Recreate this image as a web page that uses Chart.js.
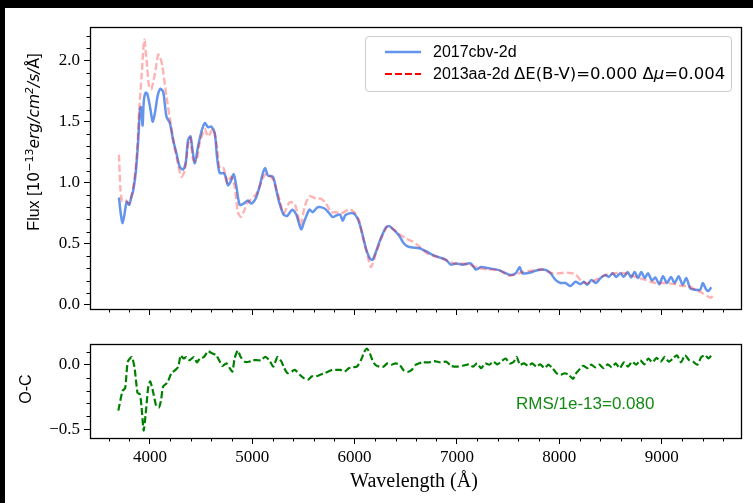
<!DOCTYPE html>
<html>
<head>
<meta charset="utf-8">
<script src="https://cdn.jsdelivr.net/npm/chart.js@4.4.0/dist/chart.umd.min.js"></script>
<style>
  html, body { margin: 0; padding: 0; width: 753px; height: 503px; overflow: hidden; background: #000; }
  #page { position: absolute; left: 5px; top: 8px; right: 0; bottom: 0; background: #fff; }
  canvas { position: absolute; left: 0; }
  #fluxCanvas { top: 0; }
  #ocCanvas { top: 330px; }
  .lbl { position: absolute; font-family: "Liberation Sans", sans-serif; font-size: 16px; color: #000; white-space: nowrap; line-height: 1; }
  .lbl sup { font-size: 11px; line-height: 0; vertical-align: 6px; }
  .math { font-family: "DejaVu Sans", sans-serif; font-size: 15.5px; }
  .serif { font-family: "Liberation Serif", serif; font-size: 20px; }
  #legend { position: absolute; left: 365px; top: 36px; width: 367px; height: 56px; box-sizing: border-box;
            border: 1px solid #ccc; border-radius: 4px; background: rgba(255,255,255,0.8); }
  #legend svg { position: absolute; left: 19px; }
  #legend .lbl { left: 67px; transform: translateY(-50%); }
  #legend .math { font-size: 16.5px; }
</style>
</head>
<body>
<div id="page"></div>
<canvas id="fluxCanvas" width="753" height="330"></canvas>
<canvas id="ocCanvas" width="753" height="173"></canvas>

<div class="lbl" style="left:34px;top:142px;transform:translate(-50%,-50%) rotate(-90deg)">Flux [<span class="math">10<sup>−13</sup><i>erg/cm<sup>2</sup>/s/</i>Å</span>]</div>
<div class="lbl" style="left:26px;top:389px;transform:translate(-50%,-50%) rotate(-90deg)">O-C</div>
<div class="lbl serif" style="left:414px;top:480px;transform:translate(-50%,-50%)">Wavelength (Å)</div>
<div class="lbl" style="left:516px;top:403px;font-size:17px;transform:translateY(-50%);color:#138a13">RMS/1e-13=0.080</div>

<div id="legend">
  <svg width="36" height="6" style="top:12px"><line x1="0" y1="3" x2="36" y2="3" stroke="#6495ED" stroke-width="2.5"/></svg>
  <div class="lbl" style="top:15px">2017cbv-2d</div>
  <svg width="36" height="6" style="top:34px"><line x1="0" y1="3" x2="36" y2="3" stroke="#ff0000" stroke-width="2.2" stroke-dasharray="7,3"/></svg>
  <div class="lbl" style="top:37px">2013aa-2d <span class="math">ΔE(B-V)=0.000 Δ<i>μ</i>=0.004</span></div>
</div>

<script>
// 2017cbv-2d (blue, solid)
const waveBlue = [3698, 3715, 3734, 3755, 3773, 3798, 3818, 3838, 3864, 3886, 3903, 3912, 3919, 3929, 3937, 3945,
  3960, 3974, 3993, 4010, 4026, 4049, 4065, 4081, 4104, 4130, 4145, 4163, 4195, 4227, 4260, 4292, 4325, 4351,
  4373, 4397, 4416, 4439, 4471, 4504, 4536, 4568, 4601, 4634, 4656, 4682, 4721, 4741, 4763, 4789, 4819, 4845,
  4877, 4916, 4958, 4991, 5033, 5072, 5104, 5127, 5153, 5202, 5235, 5267, 5306, 5342, 5391, 5430, 5478, 5511,
  5559, 5592, 5640, 5706, 5754, 5787, 5826, 5858, 5884, 5910, 5949, 5988, 6021, 6047, 6079, 6112, 6150, 6176,
  6215, 6258, 6306, 6339, 6388, 6437, 6476, 6518, 6566, 6632, 6697, 6762, 6827, 6892, 6940, 6989, 7054, 7135,
  7184, 7233, 7314, 7411, 7476, 7525, 7574, 7613, 7639, 7687, 7736, 7785, 7833, 7872, 7914, 7963, 8012, 8060,
  8109, 8158, 8207, 8239, 8272, 8314, 8359, 8402, 8450, 8483, 8522, 8554, 8597, 8629, 8668, 8701, 8736, 8769,
  8801, 8834, 8866, 8905, 8938, 8977, 9013, 9052, 9091, 9127, 9166, 9205, 9241, 9280, 9328, 9377, 9402, 9436,
  9458, 9484];
const fluxBlue = [0.88, 0.75, 0.67, 0.76, 0.845, 0.82, 0.88, 0.94, 1.10, 1.35, 1.60, 1.62, 1.57, 1.47, 1.62, 1.70,
  1.74, 1.73, 1.66, 1.58, 1.50, 1.57, 1.66, 1.73, 1.77, 1.745, 1.65, 1.54, 1.49, 1.35, 1.24, 1.13, 1.11, 1.17,
  1.35, 1.38, 1.27, 1.16, 1.30, 1.42, 1.49, 1.455, 1.46, 1.405, 1.21, 1.08, 1.08, 1.05, 0.98, 1.01, 1.07, 0.97,
  0.82, 0.83, 0.855, 0.83, 0.87, 0.97, 1.08, 1.12, 1.06, 1.05, 0.94, 0.83, 0.74, 0.73, 0.78, 0.74, 0.62, 0.69,
  0.78, 0.76, 0.80, 0.79, 0.75, 0.72, 0.735, 0.74, 0.69, 0.735, 0.75, 0.75, 0.72, 0.67, 0.57, 0.46, 0.38, 0.37,
  0.45, 0.55, 0.635, 0.645, 0.61, 0.565, 0.51, 0.48, 0.47, 0.465, 0.44, 0.41, 0.39, 0.37, 0.33, 0.34, 0.33, 0.34,
  0.29, 0.31, 0.30, 0.285, 0.26, 0.245, 0.26, 0.31, 0.26, 0.26, 0.27, 0.285, 0.29, 0.285, 0.26, 0.205, 0.18, 0.18,
  0.155, 0.19, 0.17, 0.19, 0.165, 0.205, 0.18, 0.22, 0.245, 0.23, 0.26, 0.23, 0.26, 0.23, 0.27, 0.225, 0.27, 0.22,
  0.27, 0.22, 0.26, 0.20, 0.225, 0.17, 0.235, 0.18, 0.23, 0.18, 0.235, 0.165, 0.22, 0.135, 0.125, 0.125, 0.18, 0.125,
  0.115, 0.145];

// 2013aa-2d (red, dashed)
const waveRed = [3698, 3712, 3730, 3760, 3798, 3838, 3870, 3896, 3919, 3945, 3968, 3993, 4016, 4050, 4081, 4097,
  4123, 4163, 4195, 4233, 4266, 4308, 4341, 4373, 4397, 4422, 4455, 4487, 4536, 4568, 4617, 4650, 4682, 4721,
  4753, 4795, 4828, 4860, 4890, 4920, 4958, 5040, 5104, 5137, 5202, 5267, 5306, 5365, 5414, 5472, 5511, 5559,
  5624, 5673, 5722, 5770, 5818, 5867, 5949, 5998, 6040, 6079, 6128, 6160, 6208, 6258, 6323, 6372, 6437, 6502,
  6566, 6632, 6713, 6778, 6860, 6973, 7038, 7119, 7217, 7314, 7411, 7508, 7573, 7640, 7720, 7833, 7930, 7996,
  8077, 8158, 8223, 8288, 8353, 8450, 8547, 8644, 8742, 8840, 8938, 9035, 9133, 9198, 9263, 9328, 9393, 9473, 9500];
const fluxRed = [1.23, 0.95, 0.85, 0.86, 0.83, 0.97, 1.20, 1.60, 1.87, 2.17, 2.00, 1.78, 1.77, 1.90, 2.05, 2.04,
  1.95, 1.70, 1.53, 1.33, 1.19, 1.05, 1.10, 1.31, 1.37, 1.19, 1.18, 1.33, 1.44, 1.38, 1.44, 1.33, 1.12, 1.12,
  1.00, 1.05, 0.97, 0.76, 0.72, 0.77, 0.84, 0.91, 1.04, 1.07, 1.03, 0.86, 0.75, 0.84, 0.83, 0.66, 0.80, 0.89,
  0.87, 0.87, 0.83, 0.76, 0.76, 0.75, 0.78, 0.76, 0.70, 0.56, 0.40, 0.31, 0.42, 0.54, 0.645, 0.625, 0.58, 0.545,
  0.52, 0.48, 0.42, 0.40, 0.38, 0.34, 0.34, 0.33, 0.30, 0.29, 0.285, 0.24, 0.25, 0.27, 0.28, 0.29, 0.26, 0.26,
  0.265, 0.25, 0.19, 0.18, 0.205, 0.245, 0.26, 0.26, 0.23, 0.205, 0.18, 0.18, 0.17, 0.155, 0.155, 0.125, 0.10, 0.06, 0.07];

// O-C residuals (green, dashed)
const waveOC = [3692, 3732, 3759, 3784, 3824, 3851, 3879, 3903, 3919, 3939, 3959, 3983, 4003, 4030, 4062, 4090,
  4110, 4130, 4170, 4210, 4250, 4278, 4301, 4329, 4357, 4389, 4429, 4460, 4488, 4528, 4568, 4608, 4648, 4676,
  4708, 4748, 4780, 4807, 4827, 4859, 4887, 4927, 4967, 5007, 5046, 5086, 5126, 5166, 5206, 5246, 5286, 5313,
  5345, 5385, 5416, 5464, 5504, 5544, 5584, 5624, 5664, 5704, 5744, 5783, 5823, 5863, 5903, 5943, 5982, 6022,
  6062, 6094, 6122, 6150, 6174, 6201, 6241, 6281, 6321, 6360, 6400, 6440, 6480, 6519, 6559, 6599, 6659, 6719,
  6779, 6838, 6898, 6938, 6997, 7057, 7117, 7157, 7197, 7236, 7276, 7316, 7356, 7396, 7436, 7476, 7515, 7555,
  7584, 7615, 7655, 7695, 7735, 7775, 7815, 7854, 7894, 7934, 7974, 8013, 8053, 8093, 8133, 8165, 8193, 8233,
  8273, 8312, 8352, 8392, 8432, 8472, 8512, 8551, 8591, 8631, 8671, 8711, 8751, 8791, 8830, 8870, 8910, 8950,
  8990, 9029, 9069, 9109, 9149, 9189, 9228, 9268, 9308, 9348, 9388, 9428, 9455, 9487];
const ocValues = [-0.356, -0.205, -0.18, 0.023, 0.06, -0.028, -0.217, -0.23, -0.33, -0.51, -0.38, -0.18, -0.13, -0.205, -0.32, -0.33,
  -0.27, -0.167, -0.14, -0.066, -0.04, -0.015, 0.073, 0.048, 0.06, 0.035, 0.06, 0.018, 0.048, 0.06, 0.104, 0.088, 0.073, 0.035,
  -0.01, 0.010, -0.027, -0.053, 0.048, 0.11, 0.06, 0.023, 0.023, 0.035, 0.035, 0.035, 0.06, 0.035, -0.015, 0.06, 0.023, -0.027,
  -0.066, -0.053, -0.04, -0.078, -0.104, -0.116, -0.09, -0.09, -0.078, -0.066, -0.053, -0.04, -0.04, -0.04, -0.053, -0.027, -0.02, -0.015,
  0.035, 0.098, 0.124, 0.086, 0.035, 0, -0.015, -0.015, 0.010, 0, 0.010, 0, -0.045, -0.055, -0.04, 0, 0.018, 0.018,
  0.028, 0.018, 0.023, -0.008, -0.015, -0.008, 0.003, -0.015, 0.010, -0.027, 0.010, 0, 0.023, 0.003, 0.028, 0.048, 0.010, 0.023,
  0.06, 0, 0.010, -0.008, 0.010, -0.015, 0.003, -0.027, 0, -0.027, -0.066, -0.078, -0.066, -0.078, -0.11, -0.066, -0.04, -0.008,
  -0.027, 0, -0.02, 0, -0.027, 0.003, -0.02, 0.010, -0.027, 0.018, -0.015, 0.023, 0, 0.035, 0.003, 0.048, 0.018, 0.053,
  0.023, 0.06, 0.023, 0.048, 0.073, 0.018, 0.073, 0.035, 0.023, 0, 0.06, 0.073, 0.048, 0.073];

// axes
const xRange = [3415, 9775];
const xTicks = [4000, 5000, 6000, 7000, 8000, 9000];
const fluxRange = [-0.033, 2.276];
const fluxTicks = [0.0, 0.5, 1.0, 1.5, 2.0];
const ocRange = [-0.568, 0.159];
const ocTicks = [-0.5, 0.0];

Chart.defaults.font.family = "'Liberation Serif', serif";
Chart.defaults.font.size = 17;
Chart.defaults.color = "#000";

const toPoints = (xs, ys) => xs.map((x, i) => ({ x, y: ys[i] }));
const fmt = (v) => v.toFixed(1).replace("-", "\u2212");

// box round the plot + minor ticks like matplotlib
const frameAndMinor = {
  id: "frameAndMinor",
  afterDraw(chart, args, opts) {
    const { ctx, chartArea: a } = chart;
    const sx = chart.scales.x;
    const sy = chart.scales.y;
    ctx.save();
    ctx.strokeStyle = "#000";
    ctx.lineWidth = 1;
    ctx.beginPath();
    for (let k = Math.ceil(sx.min / opts.xStep); k * opts.xStep <= sx.max; k++) {
      if ((k * opts.xStep) % 1000 === 0) continue;
      const px = Math.round(sx.getPixelForValue(k * opts.xStep)) + 0.5;
      ctx.moveTo(px, a.bottom);
      ctx.lineTo(px, a.bottom + 3.5);
    }
    for (let k = Math.ceil(sy.min * 10 - 1e-6); k <= Math.floor(sy.max * 10 + 1e-6); k++) {
      if (k % 5 === 0) continue;
      const py = Math.round(sy.getPixelForValue(k / 10)) + 0.5;
      ctx.moveTo(a.left, py);
      ctx.lineTo(a.left - 3.5, py);
    }
    ctx.stroke();
    ctx.lineWidth = 1.3;
    ctx.strokeRect(Math.round(a.left) + 0.5, Math.round(a.top) + 0.5,
      Math.round(a.right - a.left), Math.round(a.bottom - a.top));
    ctx.restore();
  },
};

const tickGrid = { drawOnChartArea: false, drawTicks: true, tickLength: 6, color: "#000", lineWidth: 1 };

function xScale(showLabels, height) {
  return {
    type: "linear",
    min: xRange[0],
    max: xRange[1],
    afterBuildTicks: (s) => { s.ticks = xTicks.map((v) => ({ value: v })); },
    afterFit: (s) => { s.height = height; },
    ticks: { display: showLabels, padding: 3, maxRotation: 0, callback: (v) => String(v) },
    grid: tickGrid,
    border: { display: false },
  };
}

function yScale(range, ticks) {
  return {
    min: range[0],
    max: range[1],
    afterBuildTicks: (s) => { s.ticks = ticks.map((v) => ({ value: v })); },
    afterFit: (s) => { s.width = 90; },
    ticks: { padding: 4, callback: (v) => fmt(v) },
    grid: tickGrid,
    border: { display: false },
  };
}

const common = {
  responsive: false,
  animation: false,
  events: [],
};

new Chart(document.getElementById("fluxCanvas"), {
  type: "line",
  data: {
    datasets: [
      {
        label: "2013aa-2d",
        data: toPoints(waveRed, fluxRed),
        borderColor: "rgba(255,0,0,0.3)",
        borderWidth: 2.4,
        borderDash: [7, 3],
        pointRadius: 0,
        tension: 0.25,
        order: 0,
      },
      {
        label: "2017cbv-2d",
        data: toPoints(waveBlue, fluxBlue),
        borderColor: "#6495ED",
        borderWidth: 2.5,
        pointRadius: 0,
        tension: 0.25,
        order: 1,
      },
    ],
  },
  options: {
    ...common,
    layout: { padding: { left: 0, right: 12, top: 27, bottom: 0 } },
    plugins: { legend: { display: false }, tooltip: { enabled: false }, frameAndMinor: { xStep: 200 } },
    scales: { x: xScale(false, 21), y: yScale(fluxRange, fluxTicks) },
  },
  plugins: [frameAndMinor],
});

new Chart(document.getElementById("ocCanvas"), {
  type: "line",
  data: {
    datasets: [
      {
        label: "O-C",
        data: toPoints(waveOC, ocValues),
        borderColor: "#008000",
        borderWidth: 2.2,
        borderDash: [7, 3],
        pointRadius: 0,
        tension: 0.2,
      },
    ],
  },
  options: {
    ...common,
    layout: { padding: { left: 0, right: 12, top: 12, bottom: 0 } },
    plugins: { legend: { display: false }, tooltip: { enabled: false }, frameAndMinor: { xStep: 200 } },
    scales: { x: xScale(true, 65), y: yScale(ocRange, ocTicks) },
  },
  plugins: [frameAndMinor],
});
</script>
</body>
</html>
